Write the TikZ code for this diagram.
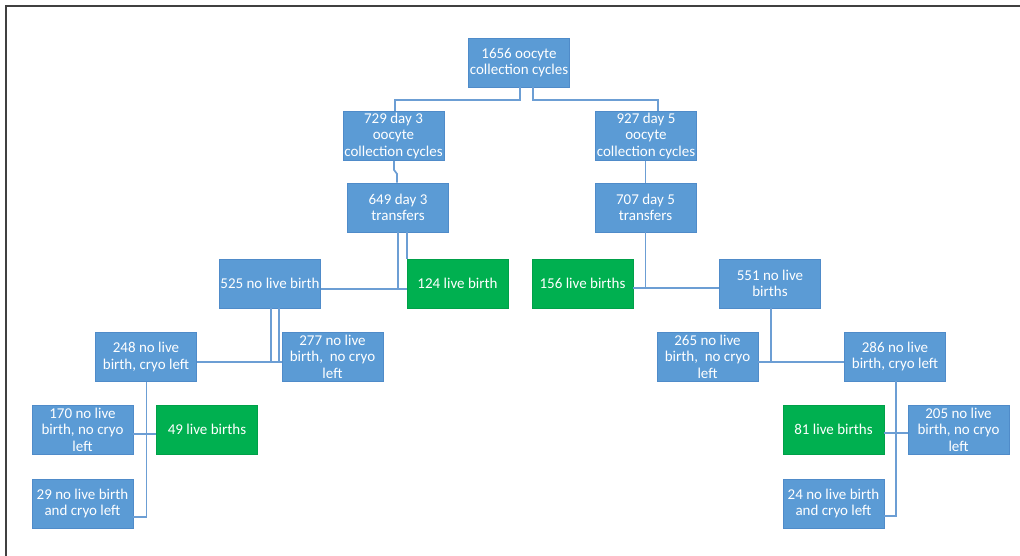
\documentclass[tikz,border=0pt]{standalone}
\usepackage{fontspec}
\setmainfont{Carlito}
\definecolor{boxblue}{HTML}{5B9BD5}
\definecolor{boxblueline}{HTML}{4F8BC9}
\definecolor{boxgreen}{HTML}{00B050}
\definecolor{boxgreenline}{HTML}{00A049}
\definecolor{linkblue}{HTML}{6C9ED4}
\definecolor{framegray}{HTML}{404040}
\tikzset{
  bluebox/.style={draw=boxblueline, line width=0.8pt, fill=boxblue, text=white,
    minimum width=101pt, minimum height=49pt, inner sep=0pt, align=center,
    font=\fontsize{15}{16.5}\selectfont},
  greenbox/.style={bluebox, draw=boxgreenline, fill=boxgreen},
  link/.style={draw=linkblue, line width=1.7pt},
}
\begin{document}
\begin{tikzpicture}[x=1pt,y=-1pt]
\useasboundingbox (0,0) rectangle (1020,556);
\draw[framegray, line width=2pt] (6,556) -- (6,6) -- (1020,6);

\node[bluebox] (root) at (519,62.5) {1656 oocyte\\collection cycles};
\node[bluebox] (d3) at (393.5,136) {729 day 3\\oocyte\\collection cycles};
\node[bluebox] (d5) at (646,136) {927 day 5\\oocyte\\collection cycles};
\node[bluebox] (t3) at (398,207.5) {649 day 3\\transfers};
\node[bluebox] (t5) at (645.5,207.5) {707 day 5\\transfers};
\node[bluebox] (nlb3) at (270,283.5) {525 no live birth};
\node[greenbox] (lb3) at (457.5,283.5) {124 live birth};
\node[greenbox] (lb5) at (582.5,283.5) {156 live births};
\node[bluebox] (nlb5) at (770,283.5) {551 no live\\births};
\node[bluebox] (c248) at (146,357) {248 no live\\birth, cryo left};
\node[bluebox] (c277) at (332.5,356.5) {277 no live\\birth,\ \ no cryo\\left};
\node[bluebox] (c265) at (707.5,356.5) {265 no live\\birth,\ \ no cryo\\left};
\node[bluebox] (c286) at (895,356.5) {286 no live\\birth, cryo left};
\node[bluebox] (c170) at (82.5,429.5) {170 no live\\birth, no cryo\\left};
\node[greenbox] (g49) at (207,429.5) {49 live births};
\node[bluebox] (c29) at (82.5,503.5) {29 no live birth\\and cryo left};
\node[greenbox] (g81) at (833.5,429.5) {81 live births};
\node[bluebox] (c205) at (958.5,429.5) {205 no live\\birth, no cryo\\left};
\node[bluebox] (c24) at (833.5,503.5) {24 no live birth\\and cryo left};

% root -> day 3 / day 5
\coordinate (r1) at ([xshift=1pt]root.south);
\coordinate (r2) at ([xshift=14pt]root.south);
\coordinate (rb) at ([yshift=-12.5pt]root.south);
\draw[link] (r1) -- (r1 |- rb) -| ([xshift=1.5pt]d3.north);
\draw[link] (r2) -- (r2 |- rb) -| ([xshift=12pt]d5.north);

% day 3 -> transfers, day 5 -> transfers
\draw[link] ([xshift=0.5pt]d3.south) -- ++(0,9) -- ++(3,4) -- ([xshift=-1pt]t3.north);
\draw[link] ([xshift=-0.5pt]d5.south) -- (t5.north);

% day 3 transfers -> outcomes
\coordinate (j1) at ([yshift=-5.5pt]nlb3.east);
\draw[link] (j1) -- (j1 -| lb3.west);
\draw[link] (t3.south) -- (t3.south |- j1);
\draw[link] ([xshift=9pt]t3.south) -- ([xshift=9pt]t3.south |- lb3.north);

% day 5 transfers -> outcomes
\coordinate (j2) at ([yshift=-4.5pt]lb5.east);
\draw[link] (j2) -- (j2 -| nlb5.west);
\draw[link] (t5.south) -- (t5.south |- j2);

% 525 -> 248 / 277
\coordinate (j3) at ([yshift=-5pt]c248.east);
\draw[link] (j3) -- (j3 -| c277.west);
\draw[link] ([xshift=1pt]nlb3.south) -- ([xshift=1pt]nlb3.south |- j3);
\draw[link] ([xshift=9pt]nlb3.south) -- ([xshift=9pt]nlb3.south |- j3);

% 551 -> 265 / 286
\coordinate (j4) at ([yshift=-5.5pt]c265.east);
\draw[link] (j4) -- (j4 -| c286.west);
\draw[link] ([xshift=1pt]nlb5.south) -- ([xshift=1pt]nlb5.south |- j4);

% 248 -> 170 / 49 / 29
\coordinate (v1) at ([xshift=0.5pt]c248.south);
\coordinate (j5) at ([yshift=-13.5pt]c29.east);
\coordinate (j6) at ([yshift=-4.5pt]c170.east);
\draw[link] (v1) -- (v1 |- j5) -- (j5);
\draw[link] (j6) -- (j6 -| g49.west);

% 286 -> 81 / 205 / 24
\coordinate (v2) at ([xshift=1pt]c286.south);
\coordinate (j7) at ([yshift=-12.5pt]c24.east);
\coordinate (j8) at ([yshift=-3.5pt]g81.east);
\draw[link] (v2) -- (v2 |- j7) -- (j7);
\draw[link] (j8) -- (j8 -| c205.west);
\end{tikzpicture}
\end{document}
